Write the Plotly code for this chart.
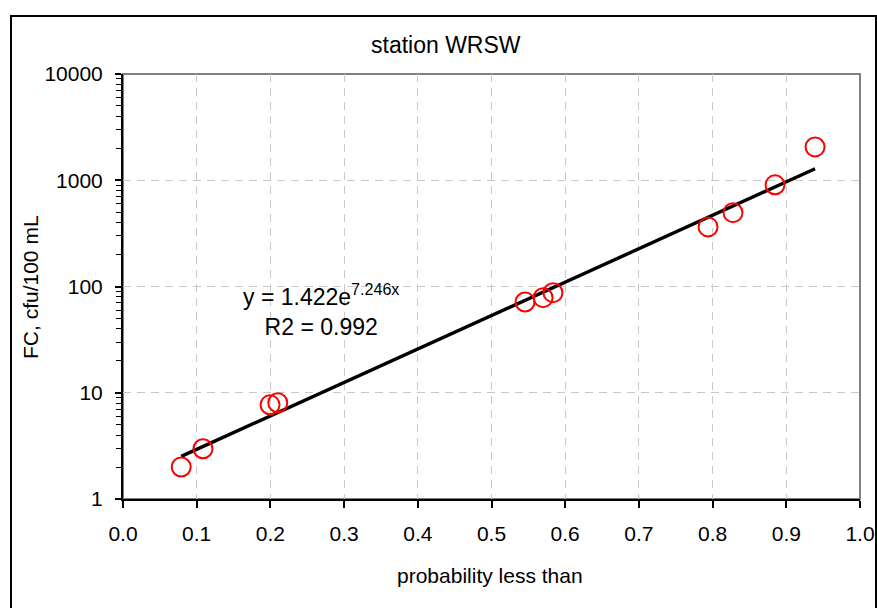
import numpy as np
import plotly.graph_objects as go

# Data
prob = [0.079, 0.1085, 0.1995, 0.210, 0.5455, 0.570, 0.5834, 0.7938, 0.8277, 0.8847, 0.939]
fc = [2.0, 2.97, 7.7, 8.05, 71.5, 78.5, 87.5, 364, 495, 905, 2060]

# Exponential trendline coefficients shown on the chart
coef_a = 1.422
coef_b = 7.246
r2 = 0.992

x_ticks = [0.0, 0.1, 0.2, 0.3, 0.4, 0.5, 0.6, 0.7, 0.8, 0.9, 1.0]
y_ticks = [1, 10, 100, 1000, 10000]

FONT = "Arial, 'Liberation Sans', sans-serif"

trend_x = np.linspace(min(prob), max(prob), 120)
trend_y = coef_a * np.exp(coef_b * trend_x)

fig = go.Figure()
fig.add_trace(go.Scatter(x=trend_x, y=trend_y, mode="lines",
                         line=dict(color="black", width=3.4), showlegend=False,
                         hoverinfo="skip"))
fig.add_trace(go.Scatter(x=prob, y=fc, mode="markers",
                         marker=dict(symbol="circle-open", size=19, color="#ff0000",
                                     line=dict(width=2, color="#ff0000")),
                         showlegend=False))

W, H = 877, 608
L, R, T, B = 123, 17, 74, 109
pw, ph = W - L - R, H - T - B

def px_x(px):
    return (px - L) / pw

def px_y(py):
    return (H - B - py) / ph

fig.update_layout(
    width=W, height=H,
    margin=dict(l=L, r=R, t=T, b=B, pad=0, autoexpand=False),
    paper_bgcolor="white", plot_bgcolor="white",
    font=dict(family=FONT, size=21, color="black"),
    showlegend=False,
)

fig.update_xaxes(
    range=[0, 1], tickvals=x_ticks, ticktext=[f"{v:.1f}" for v in x_ticks],
    showline=True, linecolor="black", linewidth=2, automargin=False,
    ticks="outside", ticklen=7, tickwidth=1.5, tickcolor="black",
    ticklabelstandoff=8,
    showgrid=True, gridcolor="#c8c8c8", gridwidth=1.3, griddash="8px,6px",
    zeroline=False, tickfont=dict(size=21, family=FONT),
)
fig.update_yaxes(
    type="log", range=[0, 4], tickvals=y_ticks, ticktext=[str(v) for v in y_ticks],
    showline=True, linecolor="black", linewidth=2, automargin=False,
    ticks="outside", ticklen=6, tickwidth=1.5, tickcolor="black",
    ticklabelstandoff=8,
    minor=dict(ticks="outside", ticklen=5, tickwidth=1.2, tickcolor="black",
               dtick="D1", showgrid=False),
    showgrid=True, gridcolor="#c8c8c8", gridwidth=1.3, griddash="8px,6px",
    zeroline=False, tickfont=dict(size=21, family=FONT),
)

shapes = [
    # gray plot-area frame (top & right)
    dict(type="rect", xref="paper", yref="paper", x0=0, x1=1, y0=0, y1=1,
         line=dict(color="#808080", width=2), layer="below"),
    # outer chart border
    dict(type="rect", xref="paper", yref="paper",
         x0=px_x(11), x1=px_x(876), y0=px_y(700), y1=px_y(16),
         line=dict(color="black", width=2), layer="above"),
]
fig.update_layout(shapes=shapes)

annotations = [
    dict(text="station WRSW", xref="paper", yref="paper", x=px_x(446), y=px_y(45),
         xanchor="center", yanchor="middle", showarrow=False,
         font=dict(size=23, family=FONT)),
    dict(text="probability less than", xref="paper", yref="paper", x=px_x(490), y=px_y(575),
         xanchor="center", yanchor="middle", showarrow=False,
         font=dict(size=21, family=FONT)),
    dict(text="FC, cfu/100 mL", xref="paper", yref="paper", x=px_x(30), y=px_y(287),
         xanchor="center", yanchor="middle", showarrow=False, textangle=-90,
         font=dict(size=21, family=FONT)),
    dict(text=f"y = {coef_a}e<sup>{coef_b}x</sup><br>R2 = {r2}", xref="paper", yref="paper",
         x=px_x(321), y=px_y(310), xanchor="center", yanchor="middle", showarrow=False,
         align="center", font=dict(size=23, family=FONT)),
]
fig.update_layout(annotations=annotations)

fig.write_html("out.html")
